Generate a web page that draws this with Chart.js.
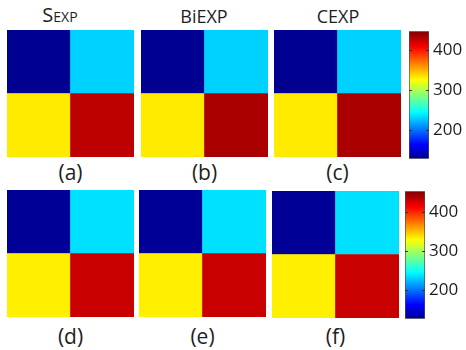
<!DOCTYPE html>
<html>
<head>
<meta charset="utf-8">
<script src="https://cdn.jsdelivr.net/npm/chart.js@4/dist/chart.umd.min.js"></script>
<style>
  html, body { margin: 0; padding: 0; background: #fff; }
  body { width: 466px; height: 350px; position: relative; overflow: hidden;
         font-family: "Open Sans", "DejaVu Sans", sans-serif; color: #1e1e1e; }
  canvas { position: absolute; }
  .txt { position: absolute; text-align: center; white-space: nowrap; }
</style>
</head>
<body>
<script>
// Map columns (left / right half) of each 2x2 phantom map
const columns = ['left', 'right'];
const methodTitles = ['SEXP', 'BiEXP', 'CEXP'];
const panelLabels = ['(a)', '(b)', '(c)', '(d)', '(e)', '(f)'];

// Quadrant values: [top-left, top-right, bottom-left, bottom-right]
const valuesA = [128, 230, 332, 428];
const valuesB = [128, 230, 332, 434];
const valuesC = [128, 230, 332, 434];
const valuesD = [128, 236, 334, 430];
const valuesE = [128, 236, 334, 430];
const valuesF = [128, 236, 334, 430];

// Colour-scale limits of the two rows and the colorbar tick values
const rangeTop = [127.5, 447.5];
const rangeBottom = [126, 454];
const colorbarTicks = [200, 300, 400];

// MATLAB-style jet colormap (64 levels, continuous interpolation)
function jetRGB(t) {
  t = Math.min(1, Math.max(0, t));
  const s = (1 + 63 * t) / 64;
  const c = v => Math.round(255 * Math.min(1, Math.max(0, v)));
  return [c(1.5 - Math.abs(4 * s - 3)), c(1.5 - Math.abs(4 * s - 2)), c(1.5 - Math.abs(4 * s - 1))];
}
function jetColor(v, range) {
  const [r, g, b] = jetRGB((v - range[0]) / (range[1] - range[0]));
  return `rgb(${r},${g},${b})`;
}

function makeCanvas(x, y, w, h) {
  const c = document.createElement('canvas');
  c.width = w; c.height = h;
  c.style.left = x + 'px'; c.style.top = y + 'px';
  c.style.width = w + 'px'; c.style.height = h + 'px';
  document.body.appendChild(c);
  return c;
}

function addText(html, cx, top, size, width) {
  const d = document.createElement('div');
  d.className = 'txt';
  d.style.left = (cx - width / 2) + 'px';
  d.style.width = width + 'px';
  d.style.top = top + 'px';
  d.style.fontSize = size + 'px';
  d.style.lineHeight = size + 'px';
  d.innerHTML = html;
  document.body.appendChild(d);
}

const baseOptions = {
  responsive: false,
  animation: false,
  events: [],
  plugins: { legend: { display: false }, tooltip: { enabled: false } },
};

// One 2x2 map: two stacked rows of bars, one bar per column
function drawMap(x, y, size, vals, range) {
  const canvas = makeCanvas(x, y, size, size);
  new Chart(canvas, {
    type: 'bar',
    data: {
      labels: columns,
      datasets: [
        { label: 'lower', data: [1, 1], backgroundColor: [jetColor(vals[2], range), jetColor(vals[3], range)] },
        { label: 'upper', data: [1, 1], backgroundColor: [jetColor(vals[0], range), jetColor(vals[1], range)] },
      ],
    },
    options: {
      ...baseOptions,
      layout: { padding: 0 },
      datasets: { bar: { barPercentage: 1, categoryPercentage: 1, borderWidth: 0 } },
      scales: {
        x: { display: false, stacked: true },
        y: { display: false, stacked: true, min: 0, max: 2 },
      },
    },
  });
}

// Small tick marks drawn on both inner edges of the colorbar
const colorbarTickMarks = {
  id: 'colorbarTickMarks',
  afterDatasetsDraw(chart) {
    const { ctx, chartArea: a, scales: { y } } = chart;
    ctx.save();
    ctx.strokeStyle = '#333';
    ctx.lineWidth = 1;
    colorbarTicks.forEach(v => {
      const py = Math.round(y.getPixelForValue(v)) + 0.5;
      ctx.beginPath();
      ctx.moveTo(a.left, py); ctx.lineTo(a.left + 3, py);
      ctx.moveTo(a.right - 3, py); ctx.lineTo(a.right, py);
      ctx.stroke();
    });
    ctx.restore();
  },
};

function drawColorbar(x, y, barW, barH, range) {
  const pad = 14;
  const canvas = makeCanvas(x, y - pad, 466 - x, barH + 2 * pad);
  const axisW = 466 - x - barW;
  new Chart(canvas, {
    type: 'bar',
    data: {
      labels: ['scale'],
      datasets: [{
        data: [range],
        backgroundColor: (ctx) => {
          const chart = ctx.chart;
          const ys = chart.scales.y;
          if (!chart.chartArea || !ys) return '#888';
          const y0 = ys.getPixelForValue(range[0]);
          const y1 = ys.getPixelForValue(range[1]);
          const g = chart.ctx.createLinearGradient(0, y0, 0, y1);
          for (let i = 0; i <= 64; i++) {
            const [r, gg, b] = jetRGB(i / 64);
            g.addColorStop(i / 64, `rgb(${r},${gg},${b})`);
          }
          return g;
        },
        borderColor: '#4d4d4d',
        borderWidth: 1,
        borderSkipped: false,
        barPercentage: 1,
        categoryPercentage: 1,
      }],
    },
    options: {
      ...baseOptions,
      layout: { padding: { top: pad, bottom: pad, left: 0, right: 0 } },
      scales: {
        x: { display: false },
        y: {
          position: 'right',
          min: range[0],
          max: range[1],
          afterBuildTicks: (s) => { s.ticks = colorbarTicks.map(v => ({ value: v })); },
          afterFit: (s) => { s.width = axisW; },
          grid: { display: false, drawTicks: false },
          border: { display: false },
          ticks: { font: { family: 'Open Sans', size: 17 }, color: '#1e1e1e', padding: 4 },
        },
      },
    },
    plugins: [colorbarTickMarks],
  });
}

// Top row: noise-free maps
drawMap(7, 30, 127, valuesA, rangeTop);
drawMap(141, 30, 127, valuesB, rangeTop);
drawMap(274, 30, 127, valuesC, rangeTop);
drawColorbar(409, 31, 20, 128, rangeTop);

// Bottom row: noisy-data maps
drawMap(7, 190, 127, valuesD, rangeBottom);
drawMap(139, 190, 127, valuesE, rangeBottom);
drawMap(272, 191, 127, valuesF, rangeBottom);
drawColorbar(405, 191, 20, 128, rangeBottom);

// Method titles
addText('<span style="font-size:20px">' + methodTitles[0][0] + '</span><span style="font-size:14px">' +
        methodTitles[0].slice(1) + '</span>', 60, 5, 20, 90);
addText(methodTitles[1], 204, 6.5, 18, 90);
addText(methodTitles[2], 338, 6.5, 18, 90);

// Panel letters
const labelCx = [70.5, 204.5, 337.5, 70.5, 202.5, 335.5];
panelLabels.forEach((t, i) => {
  addText(t, labelCx[i], i < 3 ? 162 : 326, 21, 60);
});
</script>
</body>
</html>
